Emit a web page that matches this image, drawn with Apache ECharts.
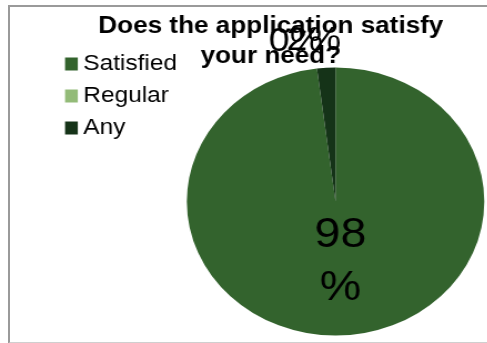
<!DOCTYPE html>
<html>
<head>
<meta charset="utf-8">
<script src="https://cdn.jsdelivr.net/npm/echarts@6/dist/echarts.min.js"></script>
<style>
  html, body { margin: 0; padding: 0; background: #fff; }
  #wrap { position: relative; width: 487px; height: 343px; overflow: hidden; background: #fff; }
  #frame { position: absolute; left: 8px; top: 5px; width: 500px; height: 335px;
           border-left: 2px solid #9a9a9a; border-top: 2px solid #9a9a9a; border-bottom: 2px solid #cfcfcf; }
  /* the chart is drawn at a narrower width and stretched horizontally */
  #chart { position: absolute; left: 0; top: 0; width: 439px; height: 343px;
           transform: scaleX(1.11); transform-origin: 0 0; }
</style>
</head>
<body>
<div id="wrap">
  <div id="frame"></div>
  <div id="chart"></div>
</div>
<script>
const titleLines = ['Does the application satisfy', 'your need?'];
const categories = ['Satisfied', 'Regular', 'Any'];
const percentages = [98, 0, 2];
const colors = ['#33632d', '#93bb78', '#153318'];

const chart = echarts.init(document.getElementById('chart'), null, { renderer: 'canvas' });

const FONT = 'Liberation Sans, Arial, sans-serif';

const pieData = categories.map((name, i) => {
  const item = { name: name, value: percentages[i], itemStyle: { color: colors[i] } };
  if (i === 0) {
    item.label = { position: 'inside', formatter: '{c}\n%', fontSize: 42, lineHeight: 53 };
  } else {
    item.label = { position: 'outside', formatter: '{c}%', fontSize: 34, distanceToLabelLine: 0 };
    item.labelLine = { show: false, length: 27, length2: 0 };
  }
  return item;
});

// small nudges of the library-placed labels
const labelShift = [[0, -9], [9, 0], [15, 0]];

chart.setOption({
  animation: false,
  title: {
    text: titleLines.join('\n'),
    left: 244,
    top: 12,
    padding: 0,
    textAlign: 'center',
    textStyle: { fontFamily: FONT, fontWeight: 'bold', fontSize: 23.5, lineHeight: 30, color: '#000' }
  },
  legend: {
    orient: 'vertical',
    left: 58.6,
    top: 53,
    padding: 0,
    itemGap: 10,
    itemWidth: 11.5,
    itemHeight: 13,
    icon: 'rect',
    selectedMode: false,
    data: categories,
    textStyle: { fontFamily: FONT, fontSize: 22, lineHeight: 20, color: '#000' }
  },
  series: [{
    type: 'pie',
    center: [302.3, 201.5],
    radius: 134,
    startAngle: 90,
    clockwise: true,
    avoidLabelOverlap: false,
    silent: true,
    itemStyle: { borderWidth: 0 },
    label: { color: '#000', fontFamily: FONT, fontWeight: 'normal' },
    labelLayout: function (params) {
      const s = labelShift[params.dataIndex];
      return { dx: s[0], dy: s[1] };
    },
    data: pieData
  }]
});
</script>
</body>
</html>
